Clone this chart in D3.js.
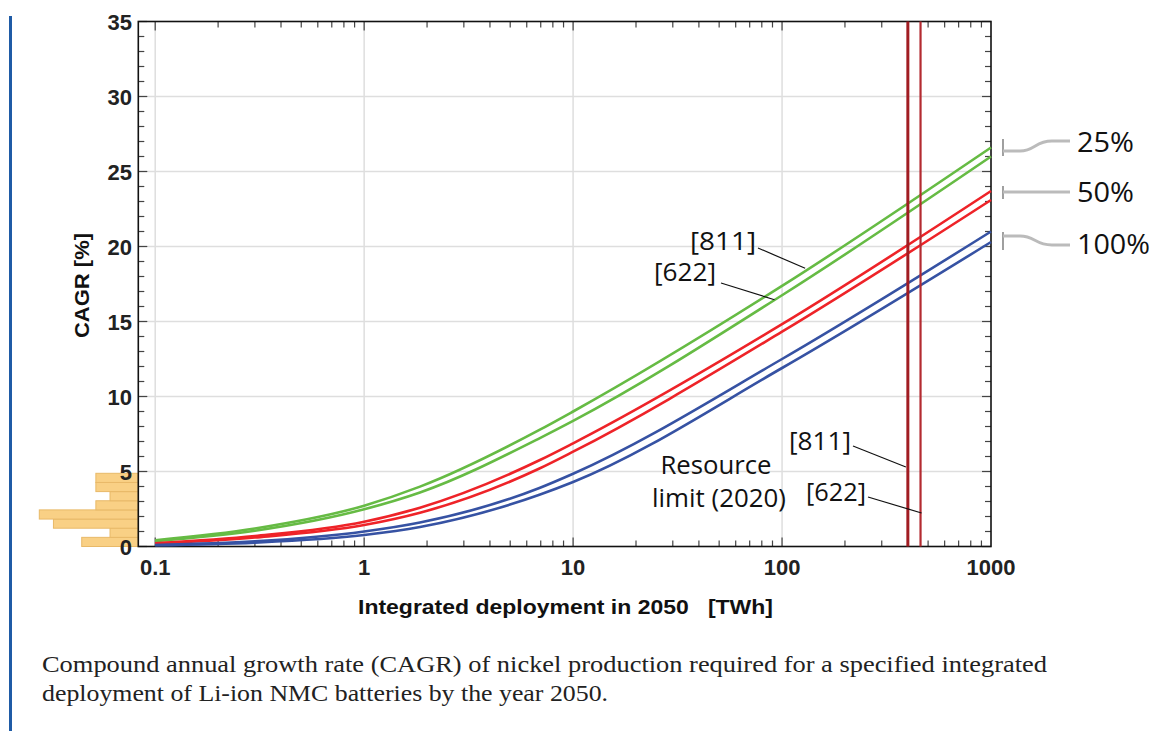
<!DOCTYPE html>
<html><head><meta charset="utf-8">
<script src="https://cdn.jsdelivr.net/npm/d3@7"></script>
<style>body{margin:0;background:#fff}svg{display:block}</style>
</head><body>
<svg id="c" width="1153" height="731"></svg>
<script>
// ---- data ----
const xTickValues = [0.1, 1, 10, 100, 1000];
const xTickLabels = ["0.1", "1", "10", "100", "1000"];
const yTickValues = [0, 5, 10, 15, 20, 25, 30, 35];
const deployment = [0.1, 0.3, 1, 1.85, 6.9, 10, 100, 1000];
const green811 = [0.42, 1.2, 2.72, 3.99, 7.77, 9.0, 17.37, 26.6];
const green622 = [0.36, 1.05, 2.48, 3.6, 7.21, 8.37, 16.75, 26.0];
const red811 = [0.22, 0.7, 1.65, 2.59, 5.75, 6.88, 14.82, 23.7];
const red622 = [0.19, 0.6, 1.43, 2.25, 5.2, 6.32, 14.32, 23.1];
const blue811 = [0.1, 0.34, 1.0, 1.6, 3.9, 4.85, 12.5, 21.0];
const blue622 = [0.08, 0.26, 0.77, 1.3, 3.45, 4.3, 11.9, 20.3];
const histBinStart = [0, 0.61, 1.22, 1.83, 2.44, 3.05, 3.66, 4.27];
const histBinWidth = 0.61;
const histCounts = [4, 2, 6, 7, 3, 2, 3, 3];
const resourceLabels = ["[811]", "[622]"];
const resourceLimits = [400, 460];
const legendLabels = ["25%", "50%", "100%"];
const caption = ["Compound annual growth rate (CAGR) of nickel production required for a specified integrated",
                 "deployment of Li-ion NMC batteries by the year 2050."];

const svg = d3.select("#c");
const L = 138.3, R = 991, T = 21.5, B = 546.5;
const x = d3.scaleLog().domain([0.083, 1000]).range([L, R]);
const y = d3.scaleLinear().domain([0, 35]).range([B, T]);
const hx = d3.scaleLinear().domain([0, 7]).range([0, 99]);
const SANS_B = "Liberation Sans, Arial, sans-serif";
const SANS = "Open Sans, Noto Sans, sans-serif";

// left blue bar
svg.append("rect").attr("x", 9).attr("y", 16).attr("width", 3).attr("height", 715).attr("fill", "#1f5ba6");

// histogram
svg.append("g").selectAll("rect").data(histCounts).join("rect")
  .attr("x", d => L - hx(d))
  .attr("y", (d, i) => y(histBinStart[i] + histBinWidth))
  .attr("width", d => hx(d))
  .attr("height", (d, i) => y(histBinStart[i]) - y(histBinStart[i] + histBinWidth))
  .attr("fill", "#f9d085").attr("stroke", "#e8b968").attr("stroke-width", 1);

// grid
const grid = svg.append("g").attr("stroke", "#dedede").attr("stroke-width", 1.5);
grid.selectAll(".gy").data(yTickValues.filter(v => v > 0 && v < 35)).join("line")
  .attr("x1", L).attr("x2", R).attr("y1", d => y(d)).attr("y2", d => y(d));
grid.selectAll(".gx").data(xTickValues.filter(v => v < 1000)).join("line")
  .attr("x1", d => x(d)).attr("x2", d => x(d)).attr("y1", T).attr("y2", B);

// minor ticks
const minorX = [];
for (let dec = 0.1; dec < 1000; dec *= 10) for (let k = 1; k <= 9; k++) { const v = +(dec * k).toPrecision(3); if (v >= 0.083 && v <= 1000) minorX.push(v); }
const minorY = d3.range(0, 36, 1);
const tk = svg.append("g").attr("stroke", "#444").attr("stroke-width", 1.2);
tk.selectAll(".bx").data(minorX).join("line")
  .attr("x1", d => x(d)).attr("x2", d => x(d)).attr("y1", B).attr("y2", d => B - (xTickValues.includes(d) ? 9 : 6));
tk.selectAll(".tx").data(minorX).join("line")
  .attr("x1", d => x(d)).attr("x2", d => x(d)).attr("y1", T).attr("y2", d => T + (xTickValues.includes(d) ? 9 : 6));
tk.selectAll(".ly").data(minorY).join("line")
  .attr("x1", L).attr("x2", d => L + (d % 5 === 0 ? 9 : 6)).attr("y1", d => y(d)).attr("y2", d => y(d));
tk.selectAll(".ry").data(minorY).join("line")
  .attr("x1", R).attr("x2", d => R - (d % 5 === 0 ? 9 : 6)).attr("y1", d => y(d)).attr("y2", d => y(d));

// frame
svg.append("rect").attr("x", L).attr("y", T).attr("width", R - L).attr("height", B - T)
  .attr("fill", "none").attr("stroke", "#111").attr("stroke-width", 1.6);

// axes labels
svg.append("g").selectAll("text").data(xTickValues).join("text")
  .attr("x", d => x(d)).attr("y", 575).attr("text-anchor", "middle")
  .attr("font-family", SANS_B).attr("font-weight", "bold").attr("font-size", 22).attr("fill", "#222")
  .text((d, i) => xTickLabels[i]);
svg.append("g").selectAll("text").data(yTickValues).join("text")
  .attr("x", 132).attr("y", d => y(d) + 8).attr("text-anchor", "end")
  .attr("font-family", SANS_B).attr("font-weight", "bold").attr("font-size", 22).attr("fill", "#222")
  .text(d => d);
svg.append("text").attr("transform", "translate(89,285.5) rotate(-90)").attr("text-anchor", "middle")
  .attr("font-family", SANS_B).attr("font-weight", "bold").attr("font-size", 20).attr("fill", "#111")
  .attr("textLength", 105).attr("lengthAdjust", "spacingAndGlyphs")
  .text("CAGR [%]");
svg.append("text").attr("x", 565.5).attr("y", 614).attr("text-anchor", "middle").attr("xml:space", "preserve")
  .attr("font-family", SANS_B).attr("font-weight", "bold").attr("font-size", 20).attr("fill", "#111")
  .attr("textLength", 415).attr("lengthAdjust", "spacingAndGlyphs")
  .text("Integrated deployment in 2050   [TWh]");

// curves
const series = [
  {v: green811, c: "#66bb44"}, {v: green622, c: "#66bb44"},
  {v: red811, c: "#ee2328"}, {v: red622, c: "#ee2328"},
  {v: blue811, c: "#3652a3"}, {v: blue622, c: "#3652a3"}
];
const line = d3.line().x(d => x(d[0])).y(d => y(d[1])).curve(d3.curveMonotoneX);
svg.append("g").selectAll("path").data(series).join("path")
  .attr("d", s => line(deployment.map((d, i) => [d, s.v[i]])))
  .attr("fill", "none").attr("stroke", s => s.c).attr("stroke-width", 2.6);

// resource limits
svg.append("g").selectAll("line").data(resourceLimits).join("line")
  .attr("x1", d => x(d)).attr("x2", d => x(d)).attr("y1", T).attr("y2", B)
  .attr("stroke", (d, i) => i === 0 ? "#a11c22" : "#b32a30").attr("stroke-width", (d, i) => i === 0 ? 3 : 2.2);

// annotations
const ann = svg.append("g").attr("font-family", SANS).attr("fill", "#111");
function label(t, xx, yy, size, anchor, len) {
  const e = ann.append("text").attr("x", xx).attr("y", yy).attr("font-size", size).attr("text-anchor", anchor || "start").text(t);
  if (len) e.attr("textLength", len).attr("lengthAdjust", "spacingAndGlyphs");
}
function leader(x1, y1, x2, y2) {
  svg.append("line").attr("x1", x1).attr("y1", y1).attr("x2", x2).attr("y2", y2).attr("stroke", "#111").attr("stroke-width", 1.2);
}
label(resourceLabels[0], 690, 250, 25, "start", 66);
label(resourceLabels[1], 654, 281, 25, "start", 62);
leader(758, 248, x(129), y(18.55));
leader(721, 283, x(92), y(16.45));
label("Resource", 716, 474, 25, "middle", 111);
label("limit (2020)", 719, 507, 25, "middle", 134);
label(resourceLabels[0], 789, 450, 25, "start", 62);
label(resourceLabels[1], 806, 501, 25, "start", 60);
leader(853, 446, x(resourceLimits[0]) - 2, 467);
leader(868, 497, x(resourceLimits[1]) + 1, 513);

// right legend
const lg = svg.append("g").attr("fill", "none");
lg.append("line").attr("x1", 1003).attr("x2", 1003).attr("y1", 139).attr("y2", 156).attr("stroke", "#888").attr("stroke-width", 1.6);
lg.append("path").attr("d", "M1003,151 L1020,151 C1035,151 1035,141 1052,141 L1070,141").attr("stroke", "#bbb").attr("stroke-width", 3);
lg.append("line").attr("x1", 1003).attr("x2", 1003).attr("y1", 186).attr("y2", 199).attr("stroke", "#888").attr("stroke-width", 1.6);
lg.append("path").attr("d", "M1003,192 L1070,192").attr("stroke", "#bbb").attr("stroke-width", 3);
lg.append("line").attr("x1", 1003).attr("x2", 1003).attr("y1", 232).attr("y2", 250).attr("stroke", "#888").attr("stroke-width", 1.6);
lg.append("path").attr("d", "M1003,236 L1020,236 C1035,236 1035,245 1052,245 L1070,245").attr("stroke", "#bbb").attr("stroke-width", 3);
svg.append("g").selectAll("text").data(legendLabels).join("text")
  .attr("x", 1077).attr("y", (d, i) => [151.5, 201.5, 253.5][i])
  .attr("font-family", SANS).attr("font-size", 28).attr("fill", "#111")
  .attr("textLength", (d, i) => [57, 57, 73][i]).attr("lengthAdjust", "spacingAndGlyphs")
  .text(d => d);

// caption
svg.append("g").selectAll("text").data(caption).join("text")
  .attr("x", 42).attr("y", (d, i) => 672 + i * 29)
  .attr("font-family", "Liberation Serif, Times New Roman, serif").attr("font-size", 23).attr("fill", "#222")
  .attr("textLength", (d, i) => i === 0 ? 1005 : 566).attr("lengthAdjust", "spacingAndGlyphs")
  .text(d => d);
</script>
</body></html>
